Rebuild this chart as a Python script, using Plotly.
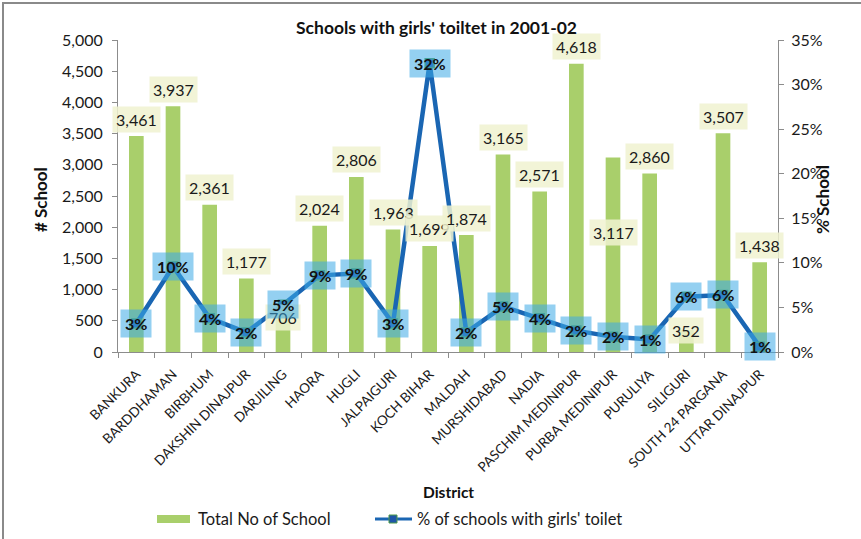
import plotly.graph_objects as go

districts = ["BANKURA", "BARDDHAMAN", "BIRBHUM", "DAKSHIN DINAJPUR", "DARJILING", "HAORA",
             "HUGLI", "JALPAIGURI", "KOCH BIHAR", "MALDAH", "MURSHIDABAD", "NADIA",
             "PASCHIM MEDINIPUR", "PURBA MEDINIPUR", "PURULIYA", "SILIGURI",
             "SOUTH 24 PARGANA", "UTTAR DINAJPUR"]
total_schools = [3461, 3937, 2361, 1177, 706, 2024, 2806, 1963, 1699, 1874, 3165, 2571,
                 4618, 3117, 2860, 352, 3507, 1438]
pct_girls_toilet = [0.032, 0.096, 0.038, 0.022, 0.053, 0.086, 0.088, 0.032, 0.324, 0.022,
                    0.051, 0.038, 0.024, 0.017, 0.014, 0.062, 0.064, 0.006]
left_ticks = [0, 500, 1000, 1500, 2000, 2500, 3000, 3500, 4000, 4500, 5000]
right_ticks = [0, 0.05, 0.10, 0.15, 0.20, 0.25, 0.30, 0.35]
legend_names = ["Total No of School", "% of schools with girls' toilet"]

# label placement tweaks (style, not data): vertical pixel shift of value labels
bar_label_shift = {"DARJILING": -10, "PURBA MEDINIPUR": -75, "SILIGURI": 0}
DEFAULT_SHIFT = 17

FONT = "Lato, Open Sans, sans-serif"
TXT = "#1a1a1a"
BAR_COLOR = "#A9CF6B"
LINE_COLOR = "#1A66B3"
AX = "#8c8c8c"

PL, PR, PT, PB = 118, 778, 40, 352  # plot area in page pixels

fig = go.Figure()
fig.add_trace(go.Bar(
    x=districts, y=total_schools, name=legend_names[0],
    marker=dict(color=BAR_COLOR, line=dict(width=0)), yaxis="y",
))
fig.add_trace(go.Scatter(
    x=districts, y=pct_girls_toilet, name=legend_names[1],
    mode="lines+markers", yaxis="y2",
    line=dict(color=LINE_COLOR, width=4.5),
    marker=dict(symbol="square", size=9, color="#1F55A8", line=dict(color="#4E9A48", width=1.5)),
))

annotations = []
for d, v in zip(districts, total_schools):
    annotations.append(dict(
        x=d, y=v, xref="x", yref="y", text=f"{v:,}", showarrow=False,
        yshift=bar_label_shift.get(d, DEFAULT_SHIFT),
        font=dict(family=FONT, size=16, color=TXT),
        bgcolor="rgba(240,242,208,0.85)", borderpad=3,
    ))
for d, p in zip(districts, pct_girls_toilet):
    annotations.append(dict(
        x=d, y=p, xref="x", yref="y2", text=f"<b>{p:.0%}</b>", showarrow=False,
        font=dict(family=FONT, size=16, color="#111111"),
        bgcolor="rgba(60,170,230,0.55)", borderpad=4,
    ))


def px(xp):
    return (xp - PL) / (PR - PL)


def py(yp):
    return (PB - yp) / (PB - PT)


annotations += [
    dict(text="<b>Schools with girls' toiltet in 2001-02</b>", x=px(436), y=py(28),
         xref="paper", yref="paper", showarrow=False, xanchor="center", yanchor="middle",
         font=dict(family=FONT, size=17.5, color="#111111")),
    dict(text="<b># School</b>", x=px(40), y=py(200), xref="paper", yref="paper",
         xanchor="center", yanchor="middle",
         showarrow=False, textangle=-90, font=dict(family=FONT, size=17, color="#111111")),
    dict(text="<b>% School</b>", x=px(822), y=py(200), xref="paper", yref="paper",
         xanchor="center", yanchor="middle",
         showarrow=False, textangle=-90, font=dict(family=FONT, size=17, color="#111111")),
    dict(text="<b>District</b>", x=px(448), y=py(492), xref="paper", yref="paper",
         xanchor="center", yanchor="middle",
         showarrow=False, font=dict(family=FONT, size=15.5, color="#111111")),
    dict(text=legend_names[0], x=px(196), y=py(519), xref="paper", yref="paper",
         xanchor="left", yanchor="middle", showarrow=False,
         font=dict(family=FONT, size=16.5, color=TXT)),
    dict(text=legend_names[1], x=px(415), y=py(519), xref="paper", yref="paper",
         xanchor="left", yanchor="middle", showarrow=False,
         font=dict(family=FONT, size=16.5, color=TXT)),
]

shapes = [
    dict(type="rect", xref="paper", yref="paper", x0=px(3), x1=px(870), y0=py(560), y1=py(3),
         line=dict(color="#8a8a8a", width=2), layer="below"),
    # custom legend keys
    dict(type="rect", xref="paper", yref="paper", x0=px(157), x1=px(190), y0=py(523), y1=py(515),
         fillcolor=BAR_COLOR, line=dict(width=0)),
    dict(type="line", xref="paper", yref="paper", x0=px(375), x1=px(412), y0=py(519), y1=py(519),
         line=dict(color=LINE_COLOR, width=3)),
    dict(type="rect", xref="paper", yref="paper", x0=px(389), x1=px(397), y0=py(523), y1=py(515),
         fillcolor="#1F55A8", line=dict(color="#4E9A48", width=1)),
]

fig.update_layout(
    width=861, height=539,
    margin=dict(l=PL, r=861 - PR, t=PT, b=539 - PB, autoexpand=False),
    paper_bgcolor="white", plot_bgcolor="white",
    font=dict(family=FONT, size=14, color=TXT),
    bargap=0.6,
    showlegend=False,
    xaxis=dict(
        type="category", range=[-0.5, len(districts) - 0.5], autorange=False,
        tickangle=-45, tickfont=dict(family=FONT, size=13.5, color=TXT),
        showline=True, linecolor=AX, linewidth=1,
        ticks="outside", tickson="boundaries", ticklen=5, tickcolor=AX,
        ticklabelstandoff=8, showgrid=False,
    ),
    yaxis=dict(
        range=[0, 5000], tickvals=left_ticks, tickformat=",d",
        showline=True, linecolor=AX, linewidth=1,
        ticks="outside", ticklen=5, tickcolor=AX, showgrid=False, zeroline=False,
        ticklabelstandoff=6,
        tickfont=dict(family=FONT, size=16, color=TXT),
    ),
    yaxis2=dict(
        range=[0, 0.35], tickvals=right_ticks, tickformat=".0%", overlaying="y", side="right",
        showline=True, linecolor=AX, linewidth=1,
        ticks="outside", ticklen=5, tickcolor=AX, showgrid=False, zeroline=False,
        ticklabelstandoff=4,
        tickfont=dict(family=FONT, size=16, color=TXT),
    ),
    annotations=annotations,
    shapes=shapes,
)

fig.write_html("out.html", config={"displayModeBar": False},
               post_script="document.body.style.margin='0';document.body.style.overflow='hidden';")
